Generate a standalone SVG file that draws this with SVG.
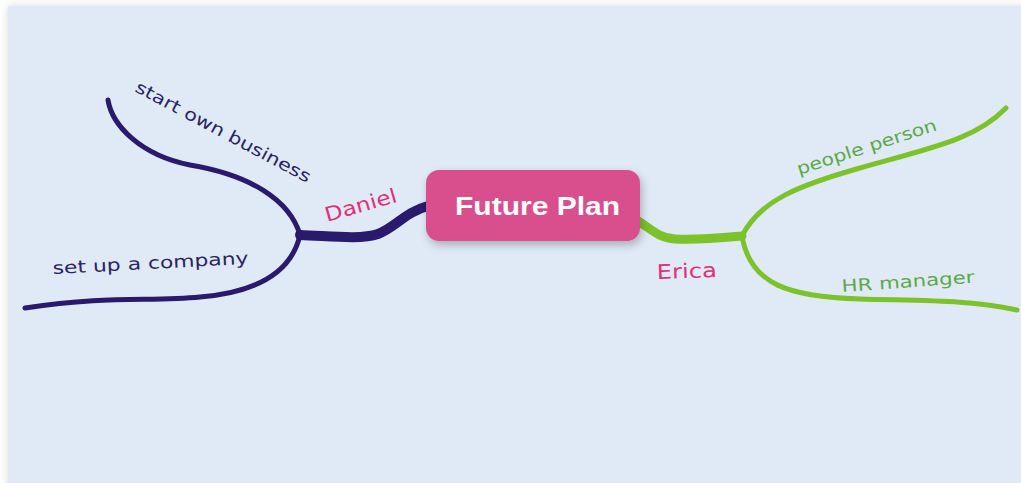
<svg xmlns="http://www.w3.org/2000/svg" width="1021" height="483" viewBox="0 0 1021 483">
<defs>
<filter id="sh" x="-10%" y="-10%" width="130%" height="140%"><feDropShadow dx="2" dy="4" stdDeviation="4" flood-color="#000" flood-opacity="0.25"/></filter>
<filter id="bgsh" x="-5%" y="-5%" width="110%" height="110%"><feDropShadow dx="0" dy="0" stdDeviation="4" flood-color="#000" flood-opacity="0.15"/></filter>
<style>
.hand{font-family:"Comic Sans MS","DejaVu Sans",sans-serif;font-size:17px;}
.navy{fill:#2A2463;}
.grn{fill:#5CA84A;}
.pink{fill:#E0307A;font-size:20px;}
.bD{fill:none;stroke:#2A1A6E;stroke-linecap:round;}
.bE{fill:none;stroke:#7CC22A;stroke-linecap:round;}
</style>
</defs>
<rect width="1021" height="483" fill="#ffffff"/>
<rect x="8" y="6" width="1020" height="485" fill="#DFEAF6" filter="url(#bgsh)"/>
<g id="connectors">
<path class="bD" stroke-width="10" d="M428,206 C405,212 395,228 378,234 C360,240 330,236 300,235"/>
<path class="bD" stroke-width="5" d="M300,235 C290,200 250,175 190,165 C140,155 112,125 108,100"/>
<path class="bD" stroke-width="5" d="M300,235 C292,270 260,292 200,297 C150,302 110,295 25,308"/>
<path class="bE" stroke-width="9" d="M638,221 C650,228 658,238 675,239 C700,240 720,238 742,236"/>
<path class="bE" stroke-width="5" d="M742,236 C760,200 800,185 860,168 C930,148 975,140 1006,108"/>
<path class="bE" stroke-width="5" d="M742,236 C750,285 790,297 860,299 C930,301 970,300 1017,310"/>
</g>
<g id="node-future-plan">
<rect x="426" y="170" width="214" height="71" rx="13" fill="#D9508E" filter="url(#sh)"/>
<text x="455" y="215" font-family="Liberation Sans,Arial,sans-serif" font-weight="bold" font-size="26" fill="#ffffff" textLength="165" lengthAdjust="spacingAndGlyphs">Future Plan</text>
</g>
<g id="node-daniel"><text class="hand pink" x="327" y="222" transform="rotate(-16 327 222)" textLength="74" lengthAdjust="spacingAndGlyphs">Daniel</text></g>
<g id="node-start-own-business"><text class="hand navy" x="134" y="91" transform="rotate(28 134 91)" textLength="196" lengthAdjust="spacingAndGlyphs">start own business</text></g>
<g id="node-set-up-a-company"><text class="hand navy" x="53" y="274" transform="rotate(-3 53 274)" textLength="196" lengthAdjust="spacingAndGlyphs">set up a company</text></g>
<g id="node-erica"><text class="hand pink" x="657" y="279" transform="rotate(-2 657 279)" textLength="60" lengthAdjust="spacingAndGlyphs">Erica</text></g>
<g id="node-people-person"><text class="hand grn" x="799" y="175" transform="rotate(-18 799 175)" textLength="146" lengthAdjust="spacingAndGlyphs">people person</text></g>
<g id="node-hr-manager"><text class="hand grn" x="842" y="292" transform="rotate(-4 842 292)" textLength="133" lengthAdjust="spacingAndGlyphs">HR manager</text></g>
</svg>
